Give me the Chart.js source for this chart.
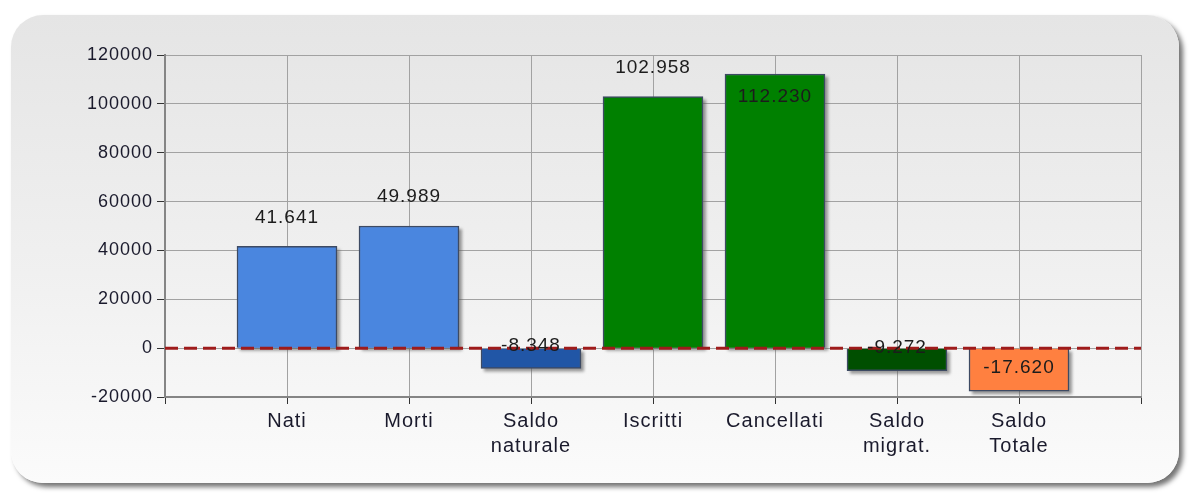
<!DOCTYPE html>
<html>
<head>
<meta charset="utf-8">
<script src="https://cdn.jsdelivr.net/npm/chart.js@4.4.1/dist/chart.umd.min.js"></script>
<style>
  html, body { margin: 0; padding: 0; background: #fff; }
  #wrap { position: relative; width: 1192px; height: 494px; overflow: hidden; }
  #panel {
    position: absolute; left: 11px; top: 15px; width: 1168px; height: 468px;
    border-radius: 32px;
    background: linear-gradient(to bottom, #e5e5e5 0%, #f0f0f0 55%, #fbfbfb 100%);
    box-shadow: 4px 4px 5px rgba(0,0,0,0.55);
  }
  #chart { position: absolute; left: 0; top: 0; }
</style>
</head>
<body>
<div id="wrap">
  <div id="panel"></div>
  <canvas id="chart" width="1192" height="494"></canvas>
</div>
<script>
// --- Data ---
const categories = [['Nati'], ['Morti'], ['Saldo', 'naturale'], ['Iscritti'], ['Cancellati'], ['Saldo', 'migrat.'], ['Saldo', 'Totale']];
const values = [41641, 49989, -8348, 102958, 112230, -9272, -17620];
const barColors = ['#4a86df', '#4a86df', '#2156a6', '#008000', '#008000', '#004f00', '#ff8040'];
const yTicks = [-20000, 0, 20000, 40000, 60000, 80000, 100000, 120000];

// empty slot at both ends of the x axis
const xLabels = [''].concat(categories, ['']);
const xValues = [null].concat(values, [null]);
const xColors = ['#000'].concat(barColors, ['#000']);

const FONT = "'Liberation Sans', Arial, sans-serif";
const TEXT_COLOR = '#1a1a2c';

function formatIt(v) {
    const s = Math.abs(v).toString().replace(/\B(?=(\d{3})+(?!\d))/g, '.');
    return (v < 0 ? '-' : '') + s;
}

// the original text is a bit wider than Arial
const wideText = {
    id: 'wideText',
    beforeDraw(chart) { chart.ctx.letterSpacing = '1px'; }
};

// drop shadow behind each bar (bar element clips its own shadow, so draw it first)
const barShadow = {
    id: 'barShadow',
    beforeDatasetsDraw(chart) {
        const c = chart.ctx;
        const meta = chart.getDatasetMeta(0);
        c.save();
        c.fillStyle = 'rgba(90,90,90,0.6)';
        c.filter = 'blur(1.5px)';
        meta.data.forEach((bar, i) => {
            if (xValues[i] === null) return;
            const top = Math.min(bar.y, bar.base);
            const h = Math.abs(bar.base - bar.y);
            c.fillRect(bar.x - bar.width / 2 + 3, top + 3, bar.width, h);
        });
        c.restore();
    }
};

// dashed zero line + value labels
const zeroAndLabels = {
    id: 'zeroAndLabels',
    afterDatasetsDraw(chart) {
        const c = chart.ctx;
        const area = chart.chartArea;
        const y0 = chart.scales.y.getPixelForValue(0);
        c.save();
        c.strokeStyle = '#9e1b1b';
        c.lineWidth = 3;
        c.setLineDash([13, 6]);
        c.beginPath();
        c.moveTo(area.left, y0);
        c.lineTo(area.right, y0);
        c.stroke();
        c.restore();

        const meta = chart.getDatasetMeta(0);
        c.save();
        c.font = '19px ' + FONT;
        c.fillStyle = '#1c1c1c';
        c.textAlign = 'center';
        c.textBaseline = 'middle';
        meta.data.forEach((bar, i) => {
            const v = xValues[i];
            if (v === null) return;
            let ty;
            if (v >= 0) {
                ty = bar.y - 29;
                if (ty < area.top + 10) ty = bar.y + 23;
            } else {
                ty = bar.y - 23;
            }
            c.fillText(formatIt(v), bar.x, ty);
        });
        c.restore();
    }
};

const ctx = document.getElementById('chart').getContext('2d');
new Chart(ctx, {
    type: 'bar',
    data: {
        labels: xLabels,
        datasets: [{
            data: xValues,
            backgroundColor: xColors,
            borderColor: '#3d4a63',
            borderWidth: 1.5,
            barThickness: 100
        }]
    },
    options: {
        responsive: false,
        animation: false,
        layout: { padding: { top: 55, right: 51, left: 0, bottom: 0 } },
        plugins: { legend: { display: false }, tooltip: { enabled: false } },
        scales: {
            x: {
                offset: false,
                grid: { offset: false, color: '#a2a2a2', lineWidth: 1, tickLength: 7, tickColor: '#333' },
                border: { color: '#858585', width: 2 },
                ticks: {
                    autoSkip: false, maxRotation: 0, padding: 5,
                    color: TEXT_COLOR,
                    font: { family: FONT, size: 20, lineHeight: 1.25 }
                },
                afterFit(s) { s.height = 97; }
            },
            y: {
                min: -20000, max: 120000,
                afterBuildTicks(s) { s.ticks = yTicks.map(v => ({ value: v })); },
                grid: { color: '#a2a2a2', lineWidth: 1, tickLength: 8, tickColor: '#333' },
                border: { color: '#858585', width: 2 },
                ticks: {
                    padding: 4,
                    color: TEXT_COLOR,
                    font: { family: FONT, size: 18 },
                    callback: v => String(v)
                },
                afterFit(s) { s.width = 165; }
            }
        }
    },
    plugins: [wideText, barShadow, zeroAndLabels]
});
</script>
</body>
</html>
